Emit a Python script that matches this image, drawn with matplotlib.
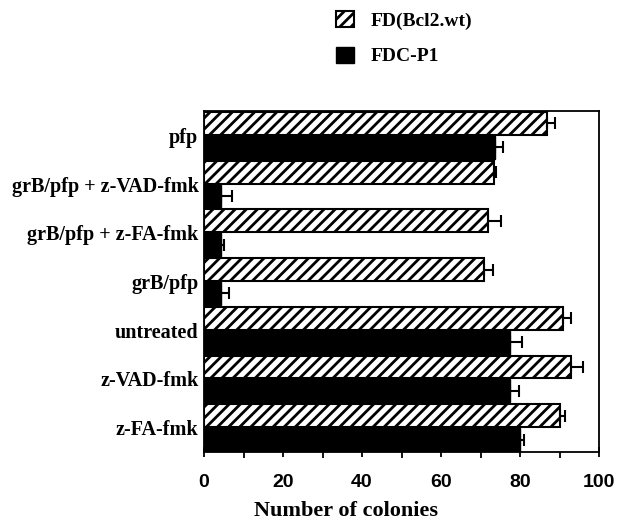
import numpy as np
import matplotlib.pyplot as plt
from matplotlib.patches import Patch

plt.rcParams['hatch.linewidth'] = 2.0

groups = ['pfp', 'grB/pfp + z-VAD-fmk', 'grB/pfp + z-FA-fmk', 'grB/pfp',
          'untreated', 'z-VAD-fmk', 'z-FA-fmk']
bcl2 = [86.8, 73.3, 72.0, 70.8, 90.9, 92.8, 90.2]
bcl2_err = [2.0, 0.7, 3.2, 2.4, 2.1, 3.2, 1.1]
fdc = [73.7, 4.2, 4.2, 4.2, 77.5, 77.5, 80.1]
fdc_err = [1.9, 3.0, 0.9, 2.2, 3.1, 2.3, 0.8]

serif = 'Liberation Serif'
sans = 'Liberation Sans'

fig = plt.figure(figsize=(6.19, 5.22), dpi=100)
ax = fig.add_axes([0.3296, 0.1341, 0.6381, 0.6533])

y = np.arange(len(groups))
h = 0.47
zeros = np.zeros(len(groups))
ekw = dict(ecolor='black', elinewidth=1.5, capsize=4.5, capthick=1.5)
ax.barh(y - 0.245, bcl2, height=h, color='white', edgecolor='black',
        hatch='///', linewidth=1.5, xerr=[zeros, bcl2_err], error_kw=ekw)
ax.barh(y + 0.245, fdc, height=h, color='black', edgecolor='black',
        xerr=[zeros, fdc_err], error_kw=ekw)

ax.set_xlim(0, 100)
ax.set_ylim(6.5, -0.5)
ax.set_xticks(np.arange(0, 101, 20))
ax.set_xticks(np.arange(10, 100, 20), minor=True)
ax.set_xticklabels([str(v) for v in range(0, 101, 20)], fontfamily=sans,
                   fontweight='bold', fontsize=14)
ax.tick_params(axis='x', which='major', direction='inout', length=7, width=1.3, pad=12)
ax.tick_params(axis='x', which='minor', direction='out', length=4, width=1.3)

ax.set_yticks(y)
ax.set_yticklabels(groups, fontfamily=serif, fontweight='bold', fontsize=14.5)
ax.tick_params(axis='y', which='major', length=0, pad=4)
ax.set_yticks([3.0], minor=True)
ax.tick_params(axis='y', which='minor', direction='out', length=4, width=1.3)

for s in ax.spines.values():
    s.set_linewidth(1.3)

ax.set_xlabel('Number of colonies', fontfamily=serif, fontweight='bold', fontsize=16)
ax.xaxis.set_label_coords(0.36, -0.145)

handles = [Patch(facecolor='white', edgecolor='black', hatch='///', linewidth=1.5),
           Patch(facecolor='black', edgecolor='black')]
fig.legend(handles, ['FD(Bcl2.wt)', 'FDC-P1'], loc='upper left',
           bbox_to_anchor=(0.515, 1.012), frameon=False,
           prop=dict(family=serif, weight='bold', size=14),
           handlelength=0.9, handleheight=0.9, handletextpad=0.85, labelspacing=0.85)

fig.savefig('out.png', dpi=100)
